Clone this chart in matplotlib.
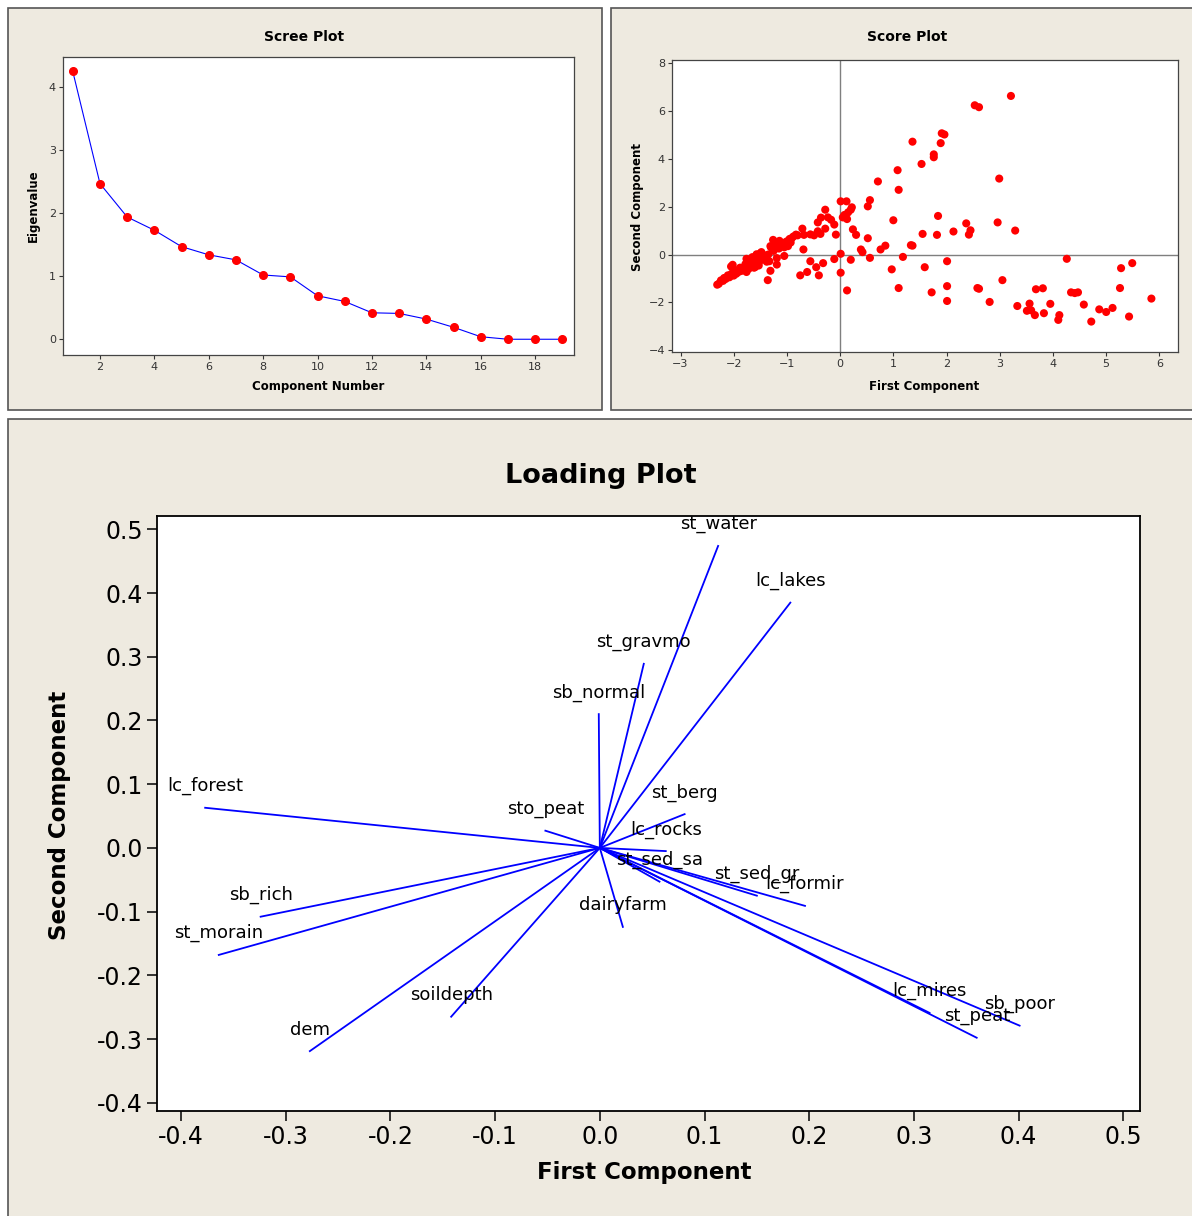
import matplotlib
matplotlib.use("Agg")
import matplotlib.pyplot as plt
from matplotlib.patches import Rectangle

# scree data
component_number = list(range(1, 20))
eigenvalue = [4.25, 2.47, 1.94, 1.73, 1.47, 1.34, 1.26, 1.02, 0.99, 0.69,
              0.60, 0.42, 0.41, 0.32, 0.19, 0.04, 0.0, 0.0, 0.0]

# score data (first component, second component)
score_first = [
    3.21, 2.53, 2.61, 1.91, 1.96, 1.89, 1.36, 1.76, 1.76, 1.53, 1.08, 0.71, 1.10, 2.99,
    0.56, 0.52, 1.00, 1.84, 2.96, 2.37, 2.45, 2.42, 2.13, 1.55, 1.82, 3.29, 0.52, 1.33,
    1.36, 0.85, 0.76, 0.39, 0.42, 0.24, 0.30, 1.18, 0.56, 0.20, 0.01, -0.11, 0.01, 0.13,
    0.97, 1.10, 1.59, 1.72, 2.01, 2.01, 2.01, 2.58, 2.61, 2.81, 3.05, 3.33, 3.56, 3.51,
    3.59, 3.66, 3.68, 3.81, 3.83, 3.95, 4.12, 4.10, 4.26, 4.34, 4.41, 4.47, 4.58, 4.72,
    4.87, 5.00, 5.12, 5.26, 5.28, 5.43, 5.49, 5.85,
    0.01, 0.12, 0.22, 0.20, 0.08, 0.05, 0.13, 0.15, -0.28, -0.36, -0.23, -0.17, -0.42,
    -0.11, -0.28, -0.71, -0.08, -0.42, -0.37, -0.49, -0.56, -0.68, -0.83, -0.91, -0.93,
    -1.04, -1.14, -1.26, -1.31, -1.27, -1.19, -1.09, -0.98, -0.69, -1.05, -1.19, -1.19,
    -1.33, -1.31, -1.36, -0.56, -0.32, -0.45, -0.62, -0.75, -0.40, -1.42, -1.48, -1.57,
    -1.65, -1.76, -1.53, -1.60, -1.72, -1.76, -1.86, -1.94, -2.02, -2.04, -2.11, -2.18,
    -2.24, -2.31,
    -2.28, -2.20, -2.15, -2.08, -2.00, -1.95, -1.90, -1.85, -1.80, -1.78, -1.75, -1.70,
    -1.68, -1.65, -1.62, -1.58, -1.55, -1.52, -1.50, -1.45, -1.40, -1.38, -1.35, -1.30,
    -1.25, -1.22, -1.15, -1.10, -1.05, -1.00, -0.95, -0.88, -0.80, -2.05, -1.98, -1.88,
    -1.72, -1.62,
]
score_second = [
    6.62, 6.23, 6.15, 5.06, 5.01, 4.65, 4.71, 4.18, 4.06, 3.78, 3.52, 3.05, 2.70, 3.17,
    2.27, 2.01, 1.43, 1.61, 1.34, 1.30, 1.01, 0.83, 0.96, 0.86, 0.82, 1.00, 0.68, 0.39,
    0.37, 0.37, 0.21, 0.21, 0.10, 1.05, 0.82, -0.10, -0.14, -0.22, 0.03, -0.19, -0.76, -1.50,
    -0.62, -1.40, -0.53, -1.58, -0.28, -1.32, -1.94, -1.40, -1.43, -1.98, -1.07, -2.15, -2.05, -2.35,
    -2.33, -2.53, -1.45, -1.41, -2.45, -2.06, -2.53, -2.73, -0.18, -1.58, -1.61, -1.58, -2.09, -2.80,
    -2.29, -2.40, -2.23, -1.40, -0.57, -2.59, -0.36, -1.84,
    2.22, 2.22, 1.97, 1.87, 1.65, 1.55, 1.48, 1.76, 1.87, 1.54, 1.55, 1.45, 1.34,
    1.25, 1.08, 1.08, 0.83, 0.97, 0.86, 0.80, 0.84, 0.82, 0.83, 0.68, 0.50,
    0.50, 0.57, 0.61, 0.35, 0.24, 0.35, 0.40, 0.35, 0.21, -0.06, -0.15, -0.42,
    -0.28, -0.68, -1.07, -0.28, -0.36, -0.53, -0.73, -0.87, -0.87, -0.04, 0.10, 0.01,
    -0.11, -0.18, -0.46, -0.53, -0.39, -0.73, -0.57, -0.66, -0.43, -0.80, -0.87, -0.98,
    -1.08, -1.26,
    -1.22, -1.10, -1.02, -0.95, -0.88, -0.80, -0.72, -0.68, -0.62, -0.40, -0.30, -0.50,
    -0.20, -0.35, -0.25, -0.40, -0.15, -0.30, 0.05, -0.20, -0.10, -0.30, 0.00, 0.30,
    0.15, 0.45, 0.25, 0.45, 0.30, 0.55, 0.65, 0.75, 0.80, -0.50, -0.75, -0.55,
    -0.60, -0.55,
]

# loading data
variables = ['st_water', 'lc_lakes', 'st_gravmo', 'sb_normal', 'lc_forest', 'sto_peat',
             'st_berg', 'lc_rocks', 'st_sed_sa', 'st_sed_gr', 'lc_formir', 'dairyfarm',
             'sb_rich', 'st_morain', 'dem', 'soildepth', 'lc_mires', 'st_peat', 'sb_poor']
load_first = [0.113, 0.182, 0.042, -0.001, -0.377, -0.052, 0.081, 0.063, 0.057, 0.150,
              0.196, 0.022, -0.324, -0.364, -0.277, -0.142, 0.315, 0.360, 0.401]
load_second = [0.474, 0.385, 0.289, 0.210, 0.063, 0.027, 0.053, -0.005, -0.053, -0.075,
               -0.091, -0.124, -0.108, -0.168, -0.319, -0.265, -0.259, -0.298, -0.279]

W, H = 1192, 1216
beige = '#EEEAE0'
frame = '#555555'

fig = plt.figure(figsize=(W / 100, H / 100), dpi=100)
fig.patch.set_facecolor('white')


def px_rect(l, t, r, b):
    return [l / W, 1 - b / H, (r - l) / W, (b - t) / H]


def ftext(x, y, s, **kw):
    fig.text(x / W, 1 - y / H, s, ha='center', va='center', **kw)


# panel backgrounds
for l, t, r, b in [(8, 8, 602, 410), (611, 8, 1200, 410), (8, 419, 1200, 1230)]:
    fig.add_artist(Rectangle((l / W, 1 - b / H), (r - l) / W, (b - t) / H,
                             transform=fig.transFigure, facecolor=beige,
                             edgecolor=frame, linewidth=1.2, zorder=0))

# Scree plot
ax1 = fig.add_axes(px_rect(63, 57, 574, 355))
ax1.plot(component_number, eigenvalue, color='#0000FF', lw=0.8, marker='o',
         markersize=5.5, markerfacecolor='red', markeredgecolor='red')
ax1.set_xlim(0.64, 19.43)
ax1.set_ylim(-0.25, 4.48)
ax1.set_xticks(range(2, 19, 2))
ax1.set_yticks(range(0, 5))
ftext(304, 37, 'Scree Plot', fontsize=10, fontweight='bold')
ftext(318, 387, 'Component Number', fontsize=8.5, fontweight='bold')
ftext(33, 206, 'Eigenvalue', fontsize=8.5, fontweight='bold', rotation=90)

# Score plot
ax2 = fig.add_axes(px_rect(672, 60, 1178, 352))
ax2.axhline(0, color='#7F7F7F', lw=1, zorder=1)
ax2.axvline(0, color='#7F7F7F', lw=1, zorder=1)
ax2.scatter(score_first, score_second, s=34, color='red', edgecolors='none', zorder=2)
ax2.set_xlim(-3.16, 6.35)
ax2.set_ylim(-4.07, 8.12)
ax2.set_xticks(range(-3, 7))
ax2.set_yticks(range(-4, 9, 2))
ftext(907, 37, 'Score Plot', fontsize=10, fontweight='bold')
ftext(924, 387, 'First Component', fontsize=8.5, fontweight='bold')
ftext(637, 207, 'Second Component', fontsize=8.5, fontweight='bold', rotation=90)

for ax in (ax1, ax2):
    for sp in ax.spines.values():
        sp.set_color('#444444')
        sp.set_linewidth(0.9)
    ax.tick_params(direction='out', length=3, width=0.8, labelsize=8,
                   colors='#333333', pad=2)

# Loading plot
ax3 = fig.add_axes(px_rect(157, 516, 1140, 1111))
for name, x, y in zip(variables, load_first, load_second):
    ax3.plot([0, x], [0, y], color='#0000FF', lw=1.3)
    ax3.annotate(name, (x, y), xytext=(0, 9), textcoords='offset points',
                 ha='center', va='bottom', fontsize=13)
ax3.set_xlim(-0.423, 0.516)
ax3.set_ylim(-0.413, 0.521)
ax3.set_xticks([i / 10 for i in range(-4, 6)])
ax3.set_yticks([i / 10 for i in range(-4, 6)])
ax3.set_xticklabels(['%.1f' % (i / 10) for i in range(-4, 6)])
ax3.set_yticklabels(['%.1f' % (i / 10) for i in range(-4, 6)])
for sp in ax3.spines.values():
    sp.set_color('black')
    sp.set_linewidth(1.3)
ax3.tick_params(direction='out', length=7, width=1.1, labelsize=17, pad=3)
ftext(601, 476, 'Loading Plot', fontsize=19.5, fontweight='bold')
ftext(644, 1173, 'First Component', fontsize=16.5, fontweight='bold')
ftext(60, 815, 'Second Component', fontsize=16.5, fontweight='bold', rotation=90)

fig.savefig('out.png', dpi=100)
